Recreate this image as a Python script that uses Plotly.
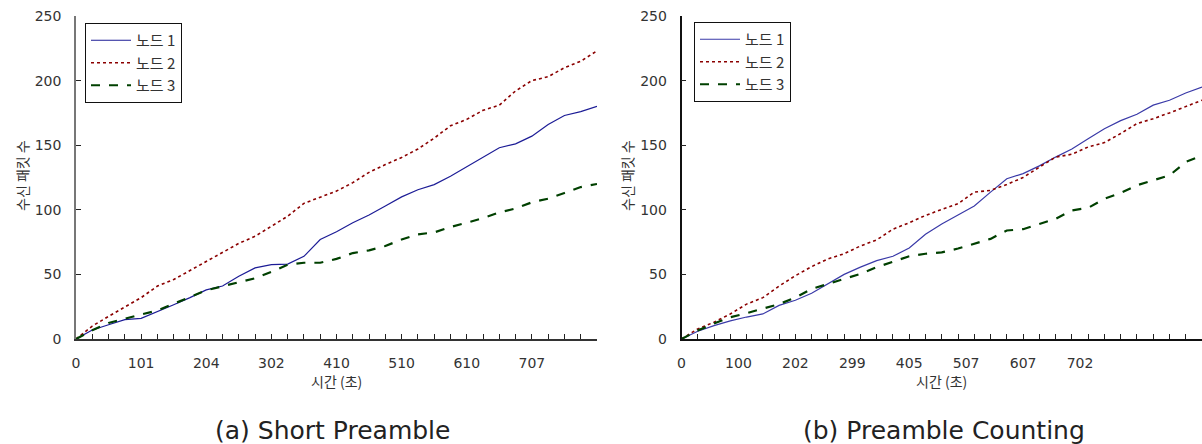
import plotly.graph_objects as go

W, H = 1202, 444

# category index positions (one sample every 2 categories, 0..64)
x_idx = list(range(0, 65, 2))

# (a) Short Preamble
a_node1 = [0, 7, 11, 15, 16, 21, 26.5, 32, 38, 41, 48.5, 55, 57.5, 58, 64, 77, 83,
           90, 96, 103, 110, 115.5, 119.5, 126, 133.5, 141, 148, 151, 157, 166, 173, 176, 180]
a_node2 = [0, 10, 17.5, 25, 32, 41, 46, 53, 60, 66.5, 74, 79.5, 87, 95, 105, 110, 114.5,
           121, 129, 135, 140.5, 147, 155.5, 165, 170, 177, 181, 192, 200, 203, 210, 215, 223]
a_node3 = [0, 6.7, 12.4, 16, 19, 22, 27, 32.5, 37.7, 41, 44, 47, 52, 57.5, 59, 59, 62,
           66.5, 68.6, 72, 77, 81, 82.5, 86.7, 90, 93.6, 98, 101, 105.8, 108.6, 113, 117.6, 120]
a_tick_pos = [0, 8, 16, 24, 32, 40, 48, 56]
a_tick_text = ["0", "101", "204", "302", "410", "510", "610", "707"]

# (b) Preamble Counting
b_node1 = [0, 6, 10.3, 14, 17, 19.4, 26, 30, 35.4, 43, 50, 55.6, 60.7, 64, 70.5, 81, 89,
           96, 103, 113.7, 124, 128, 134, 140.8, 147, 155, 162.8, 169, 174, 181, 184.8, 190.4, 195]
b_node2 = [0, 7.8, 13, 19.4, 27, 32, 41, 49, 56, 62, 66, 72, 76.7, 85, 90, 95.6, 100.3,
           104.7, 113.7, 115, 119.6, 125, 133, 140.8, 143, 148.6, 152, 159, 166.7, 170.5, 175, 180, 184.8]
b_node3 = [0, 6.5, 12, 16.8, 20, 23.8, 27, 32, 38.8, 42.6, 46.5, 50.4, 55.6, 60, 64, 66, 67,
           70, 73.6, 77.5, 84, 85, 89, 93, 99.5, 101.5, 108.5, 113, 119, 122.7, 126.6, 137, 142]
b_tick_pos = [0, 7, 14, 21, 28, 35, 42, 49]
b_tick_text = ["0", "100", "202", "299", "405", "507", "607", "702"]

names = ["노드 1", "노드 2", "노드 3"]
y_ticks = [0, 50, 100, 150, 200, 250]

NUM_FONT = "DejaVu Sans, Noto Sans CJK KR"
KR_FONT = "Noto Sans CJK KR, DejaVu Sans"

def px(xp):
    return xp / W

def py(yp):
    return 1 - yp / H

fig = go.Figure()

styles = [
    dict(color="#1c1c96", width=1.2, dash="solid"),
    dict(color="#8b0000", width=1.6, dash="dot"),
    dict(color="#004000", width=2.2, dash="dash"),
]

for vals, st, nm in zip([a_node1, a_node2, a_node3], styles, names):
    fig.add_trace(go.Scatter(x=x_idx, y=vals, mode="lines", name=nm, line=st,
                             xaxis="x", yaxis="y", legend="legend"))
for vals, st, nm in zip([b_node1, b_node2, b_node3], styles, names):
    st2 = dict(st)
    if st2["color"] == "#1c1c96":
        st2["color"] = "#3a3aa8"
    fig.add_trace(go.Scatter(x=x_idx, y=vals, mode="lines", name=nm, line=st2,
                             xaxis="x2", yaxis="y2", legend="legend2"))

ydom = [py(339), py(16)]

def xaxis(dom, tpos, ttext, linecolor, anchor):
    return dict(domain=dom, anchor=anchor, range=[0, 64], tickmode="array", tickvals=tpos,
                ticktext=ttext, ticks="inside", ticklen=0, tickcolor="#222222",
                showgrid=False, zeroline=False, showline=True, linecolor=linecolor,
                linewidth=1.5, tickfont=dict(family=NUM_FONT, size=14, color="#333333"),
                ticklabelstandoff=10, fixedrange=True, automargin=False,
                minor=dict(tickmode="linear", tick0=0, dtick=2, ticks="inside",
                           ticklen=5, tickcolor="#222222", tickwidth=1, showgrid=False))

def yaxis(dom, anchor, linecolor):
    return dict(domain=dom, anchor=anchor, range=[0, 250], tickmode="array", tickvals=y_ticks,
                ticks="inside", ticklen=5, tickcolor="#222222", showgrid=False, zeroline=False,
                showline=True, linecolor=linecolor, linewidth=1.5,
                tickfont=dict(family=NUM_FONT, size=14, color="#333333"),
                ticklabelstandoff=10, fixedrange=True, automargin=False)

fig.update_layout(
    width=W, height=H,
    margin=dict(l=0, r=0, t=0, b=0, autoexpand=False),
    paper_bgcolor="white", plot_bgcolor="white",
    xaxis=xaxis([px(76), px(597)], a_tick_pos, a_tick_text, "#333333", "y"),
    yaxis=yaxis(ydom, "x", "#777777"),
    xaxis2=xaxis([px(681.5), 1.0], b_tick_pos, b_tick_text, "#111111", "y2"),
    yaxis2=yaxis(ydom, "x2", "#111111"),
    legend=dict(x=px(85), y=py(23), xanchor="left", yanchor="top", bgcolor="white",
                bordercolor="#111111", borderwidth=1, itemwidth=40,
                font=dict(family=KR_FONT, size=15, color="#333333"), tracegroupgap=0),
    legend2=dict(x=px(694), y=py(22), xanchor="left", yanchor="top", bgcolor="white",
                 bordercolor="#111111", borderwidth=1, itemwidth=40,
                 font=dict(family=KR_FONT, size=15, color="#333333"), tracegroupgap=0),
    showlegend=True,
)

ann_font = dict(family=KR_FONT, size=14, color="#333333")
common = dict(xref="paper", yref="paper", showarrow=False, xanchor="center", yanchor="middle")
annotations = [
    dict(text="시간 (초)", x=px(337), y=py(381), font=ann_font, **common),
    dict(text="시간 (초)", x=px(941), y=py(381), font=ann_font, **common),
    dict(text="수신 패킷 수", x=px(22), y=py(176), textangle=-90, font=ann_font, **common),
    dict(text="수신 패킷 수", x=px(627), y=py(176), textangle=-90, font=ann_font, **common),
    dict(text="(a) Short Preamble", x=px(333), y=py(430),
         font=dict(family=NUM_FONT, size=25, color="#222222"), **common),
    dict(text="(b) Preamble Counting", x=px(944), y=py(430),
         font=dict(family=NUM_FONT, size=25, color="#222222"), **common),
]
fig.update_layout(annotations=annotations)

fig.write_html("out.html", config={"displayModeBar": False},
               post_script="document.body.style.margin='0';document.body.style.padding='0';")
